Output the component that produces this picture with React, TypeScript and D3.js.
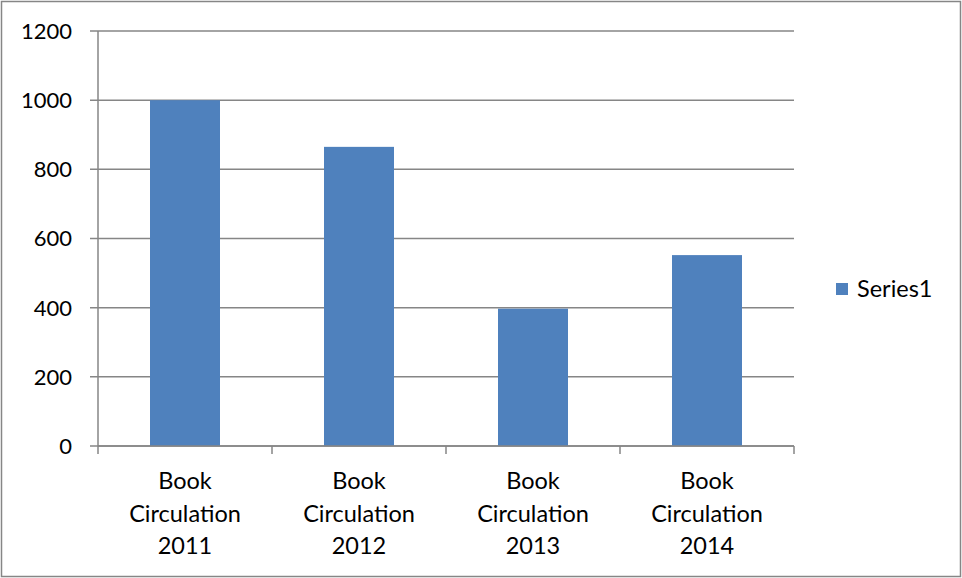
// @ts-nocheck
import React, { useEffect, useRef } from 'react';
import * as d3 from 'd3';

const categories = ['Book Circulation 2011', 'Book Circulation 2012', 'Book Circulation 2013', 'Book Circulation 2014'];
const series1 = [1000, 865, 397, 552];
const yTicks = [0, 200, 400, 600, 800, 1000, 1200];
const seriesName = 'Series1';

export default function App() {
  const svgRef = useRef();

  useEffect(() => {
    const w = 962;
    const h = 578;
    const left = 98, right = 794, top = 31, bottom = 446;
    const font = 'Lato, "Open Sans", sans-serif';
    const grey = '#868686';
    const blue = '#4f81bd';

    const svg = d3.select(svgRef.current)
      .attr('width', w)
      .attr('height', h);
    svg.selectAll('*').remove();

    svg.append('rect')
      .attr('x', 1.5).attr('y', 1.5)
      .attr('width', w - 3).attr('height', h - 3)
      .attr('fill', 'white')
      .attr('stroke', grey)
      .attr('stroke-width', 1.5);

    const x = d3.scaleBand().domain(categories).range([left, right]);
    const y = d3.scaleLinear().domain([0, 1200]).range([bottom, top]);

    // gridlines + y ticks
    svg.selectAll('.grid')
      .data(yTicks)
      .join('line')
      .attr('x1', left - 8)
      .attr('x2', right)
      .attr('y1', d => y(d))
      .attr('y2', d => y(d))
      .attr('stroke', grey)
      .attr('stroke-width', 1.5);

    svg.selectAll('.ylab')
      .data(yTicks)
      .join('text')
      .attr('x', 72)
      .attr('y', d => y(d))
      .attr('dy', '0.36em')
      .attr('text-anchor', 'end')
      .attr('font-family', font)
      .attr('font-size', 22)
      .attr('fill', '#000')
      .text(d => d);

    // y axis line
    svg.append('line')
      .attr('x1', left).attr('x2', left)
      .attr('y1', top).attr('y2', bottom)
      .attr('stroke', grey).attr('stroke-width', 1.5);

    // bars
    const barW = 70;
    svg.selectAll('.bar')
      .data(series1)
      .join('rect')
      .attr('x', (d, i) => x(categories[i]) + x.bandwidth() / 2 - barW / 2)
      .attr('y', d => y(d))
      .attr('width', barW)
      .attr('height', d => y(0) - y(d))
      .attr('fill', blue);

    // x axis line + ticks
    svg.append('line')
      .attr('x1', left).attr('x2', right)
      .attr('y1', bottom).attr('y2', bottom)
      .attr('stroke', grey).attr('stroke-width', 1.5);

    const bounds = categories.map(c => x(c)).concat([right]);
    svg.selectAll('.xtick')
      .data(bounds)
      .join('line')
      .attr('x1', d => d).attr('x2', d => d)
      .attr('y1', bottom).attr('y2', bottom + 8)
      .attr('stroke', grey).attr('stroke-width', 1.5);

    // category labels (wrapped on three lines)
    categories.forEach(c => {
      const words = ['Book', 'Circulation', c.split(' ')[2]];
      const t = svg.append('text')
        .attr('text-anchor', 'middle')
        .attr('font-family', font)
        .attr('font-size', 23.5)
        .attr('fill', '#000');
      words.forEach((wd, j) => {
        t.append('tspan')
          .attr('x', x(c) + x.bandwidth() / 2)
          .attr('y', 489 + j * 32.5)
          .text(wd);
      });
    });

    // legend
    svg.append('rect')
      .attr('x', 836).attr('y', 283)
      .attr('width', 12).attr('height', 12)
      .attr('fill', blue);
    svg.append('text')
      .attr('x', 857).attr('y', 289)
      .attr('dy', '0.36em')
      .attr('font-family', font)
      .attr('font-size', 23.5)
      .attr('fill', '#000')
      .text(seriesName);
  }, []);

  return <svg ref={svgRef} style={{ position: 'absolute', left: 0, top: 0 }} />;
}
